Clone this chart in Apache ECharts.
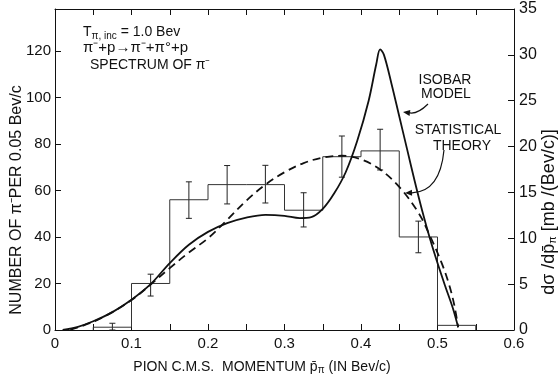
<!DOCTYPE html>
<html><head><meta charset="utf-8">
<script src="https://cdn.jsdelivr.net/npm/echarts@6/dist/echarts.min.js"></script>
<style>html,body{margin:0;padding:0;background:#fff}#c{width:559px;height:383px}</style>
</head><body><div id="c"></div>
<script>
// ---- data ----
const binStarts = [0.05, 0.10, 0.15, 0.20, 0.25, 0.30, 0.35, 0.40, 0.45, 0.50];
const binWidth = 0.05;
const binCounts = [1.2, 20, 56, 62.5, 62.5, 51.5, 74.5, 77, 40, 2];
const errX    = [0.075, 0.125, 0.175, 0.225, 0.275, 0.325, 0.375, 0.425, 0.475];
const errLow  = [0,     14.6,  48,    54.2,  54.6,  44.3,  65.7,  68.8,  33.2];
const errHigh = [2.9,   24,    63.7,  70.7,  70.8,  59,    83.4,  86.3,  46.8];
// theory curves in mb/(Bev/c) (right axis)
const isobarX = [0.01,0.03,0.05,0.075,0.1,0.125,0.15,0.175,0.2,0.225,0.25,0.275,0.3,0.32,0.335,0.35,0.365,0.38,0.395,0.41,0.42,0.425,0.43,0.44,0.45,0.46,0.47,0.48,0.49,0.5,0.51,0.52,0.527];
const isobarY = [0,0.35,0.95,1.95,3.3,5.0,7.3,9.3,10.7,11.65,12.25,12.55,12.45,12.2,12.3,13.2,14.9,17.2,20.6,25.0,29.0,30.6,30.0,26.8,23.3,19.8,16.3,13.0,10.0,7.3,4.8,2.4,0.3];
const statX = [0.02,0.05,0.075,0.1,0.125,0.15,0.175,0.2,0.225,0.25,0.275,0.3,0.325,0.35,0.375,0.4,0.425,0.45,0.475,0.49,0.505,0.515,0.522,0.527];
const statY = [0,0.9,1.95,3.27,4.95,6.75,8.45,10.0,12.0,14.1,15.85,17.2,18.2,18.8,19.0,18.6,17.5,15.6,12.8,10.3,7.4,5.0,2.7,0.3];
const xTickLabels = ['0','0.1','0.2','0.3','0.4','0.5','0.6'];
const leftTickLabels = ['0','20','40','60','80','100','120'];
const rightTickLabels = ['0','5','10','15','20','25','30','35'];

// ---- build ----
const histPts = [[binStarts[0], 0]];
binStarts.forEach((s, i) => { histPts.push([s, binCounts[i]], [s + binWidth, binCounts[i]]); });
histPts.push([binStarts[binStarts.length - 1] + binWidth, 0]);
const errData = errX.map((x, i) => [x, errLow[i], errHigh[i]]);
const isoData = isobarX.map((x, i) => [x, isobarY[i]]);
const statData = statX.map((x, i) => [x, statY[i]]);

const FONT = '"Liberation Sans", Arial, sans-serif';
const ink = '#111';
const chart = echarts.init(document.getElementById('c'), null, {renderer: 'canvas'});

function arrow(x1, y1, cx, cy, x2, y2) {
  const ang = Math.atan2(y2 - cy, x2 - cx);
  const L = 7, W = 3;
  const bx = x2 - L * Math.cos(ang), by = y2 - L * Math.sin(ang);
  const px = -Math.sin(ang) * W, py = Math.cos(ang) * W;
  return [
    {type: 'bezierCurve', shape: {x1, y1, x2: bx, y2: by, cpx1: cx, cpy1: cy},
     style: {stroke: ink, lineWidth: 1.2, fill: null}, z: 100},
    {type: 'polygon', shape: {points: [[x2, y2], [bx + px, by + py], [bx - px, by - py]]},
     style: {fill: ink}, z: 100}
  ];
}
const txt = (text, x, y, size, align) => ({
  type: 'text', z: 100,
  style: {text, x, y, font: size + 'px ' + FONT, fill: ink, align: align || 'left', verticalAlign: 'middle'}
});

const axisCommon = {
  axisLine: {show: true, onZero: false, lineStyle: {color: ink, width: 1}},
  axisTick: {show: true, inside: true, length: 6, lineStyle: {color: ink, width: 1}},
  splitLine: {show: false}
};

chart.setOption({
  animation: false,
  backgroundColor: '#fff',
  grid: {left: 55, right: 45, top: 9, bottom: 53},
  xAxis: [
    Object.assign({type: 'value', min: 0, max: 0.6, interval: 0.05, position: 'bottom',
      axisLabel: {margin: 6, color: ink, fontFamily: FONT, fontSize: 15,
        formatter: v => { const k = Math.round(v * 20); return k % 2 === 0 ? xTickLabels[k / 2] : ''; }}}, axisCommon),
    Object.assign({type: 'value', min: 0, max: 0.6, interval: 0.05, position: 'top',
      axisLabel: {show: false}}, axisCommon)
  ],
  yAxis: [
    Object.assign({type: 'value', min: 0, max: 138, interval: 20, position: 'left',
      axisLabel: {margin: 4, color: ink, fontFamily: FONT, fontSize: 15,
        formatter: v => { const k = Math.round(v); return k % 20 === 0 ? leftTickLabels[k / 20] : ''; }}}, axisCommon),
    Object.assign({type: 'value', min: 0, max: 35, interval: 5, position: 'right',
      axisLabel: {margin: 5, color: ink, fontFamily: FONT, fontSize: 16,
        formatter: v => rightTickLabels[Math.round(v / 5)]}}, axisCommon)
  ],
  series: [
    {type: 'line', name: 'histogram', data: histPts, xAxisIndex: 0, yAxisIndex: 0,
     showSymbol: false, lineStyle: {color: '#333', width: 1}, silent: true},
    {type: 'custom', name: 'errors', data: errData, xAxisIndex: 0, yAxisIndex: 0,
     encode: {x: 0, y: [1, 2]},
     renderItem: (params, api) => {
       const x = api.value(0);
       const a = api.coord([x, api.value(1)]), b = api.coord([x, api.value(2)]);
       const h = 3, st = {stroke: '#222', lineWidth: 1};
       return {type: 'group', children: [
         {type: 'line', shape: {x1: a[0], y1: a[1], x2: b[0], y2: b[1]}, style: st},
         {type: 'line', shape: {x1: b[0] - h, y1: b[1], x2: b[0] + h, y2: b[1]}, style: st},
         {type: 'line', shape: {x1: a[0] - h, y1: a[1], x2: a[0] + h, y2: a[1]}, style: st}
       ]};
     }},
    {type: 'line', name: 'Isobar model', data: isoData, xAxisIndex: 0, yAxisIndex: 1,
     showSymbol: false, smooth: 0.35,
     lineStyle: {color: ink, width: 1.8}},
    {type: 'line', name: 'Statistical theory', data: statData, xAxisIndex: 0, yAxisIndex: 1,
     showSymbol: false, smooth: 0.35,
     lineStyle: {color: ink, width: 1.8, type: [8, 5]}}
  ],
  graphic: [
    {type: 'text', z: 100, style: {
      text: '{t|T}{s|π, inc}{t| = 1.0 Bev}', x: 83, y: 32, verticalAlign: 'middle',
      rich: {t: {font: '14px ' + FONT, fill: ink}, s: {font: '10px ' + FONT, fill: ink, padding: [8, 0, 0, 0]}}}},
    txt('π⁻+p→π⁻+π°+p', 83, 48, 15),
    txt('SPECTRUM OF π⁻', 90, 65, 14),
    txt('ISOBAR', 445, 80, 14, 'center'),
    txt('MODEL', 446, 94, 14, 'center'),
    txt('STATISTICAL', 458, 130, 14, 'center'),
    txt('THEORY', 462, 146, 14, 'center'),
    {type: 'text', z: 100, style: {
      text: '{a|PION C.M.S.  MOMENTUM p̄}{s|π}{a| (IN Bev/c)}', x: 262, y: 367, align: 'center', verticalAlign: 'middle',
      rich: {a: {font: '14px ' + FONT, fill: ink}, s: {font: '10px ' + FONT, fill: ink, padding: [6, 0, 0, 0]}}}},
    {type: 'text', z: 100, x: 17, y: 200, rotation: Math.PI / 2, style: {
      text: 'NUMBER OF π⁻PER 0.05 Bev/c', x: 0, y: 0, align: 'center', verticalAlign: 'middle',
      font: '16px ' + FONT, fill: ink}},
    {type: 'text', z: 100, x: 549, y: 212, rotation: Math.PI / 2, style: {
      text: '{a|dσ /dp̄}{s|π}{a| [mb /(Bev/c)]}', x: 0, y: 0, align: 'center', verticalAlign: 'middle',
      rich: {a: {font: '18px ' + FONT, fill: ink}, s: {font: '11px ' + FONT, fill: ink, padding: [7, 0, 0, 0]}}}},
    ...arrow(428, 104, 418, 114, 403, 112),
    ...arrow(444, 150, 440, 192, 405, 193)
  ]
});
</script></body></html>
